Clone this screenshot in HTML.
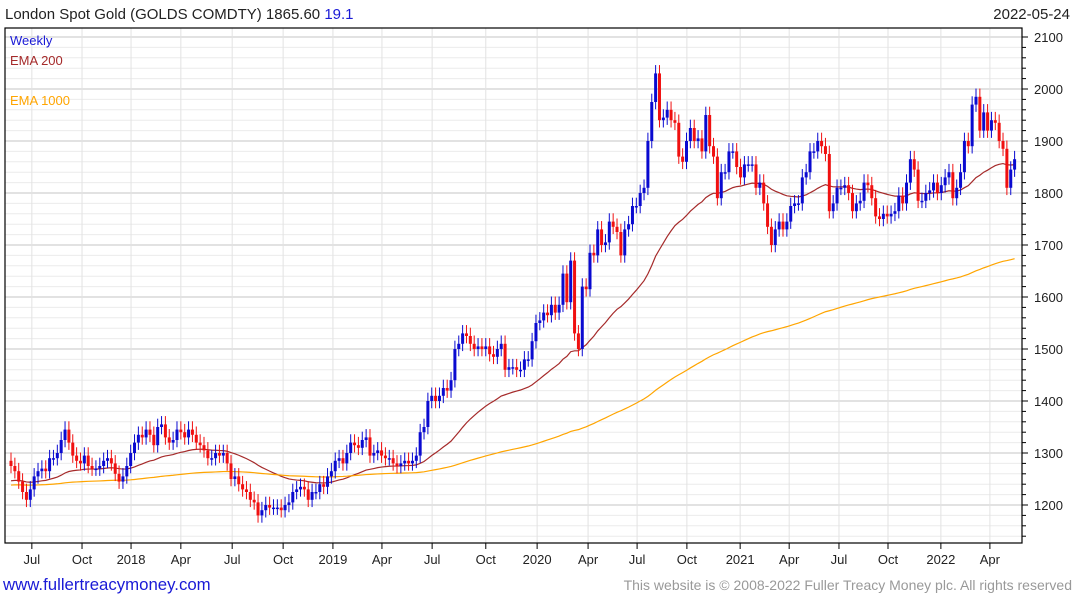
<!DOCTYPE html>
<html><head><meta charset="utf-8"><style>
body{margin:0;background:#fff;font-family:"Liberation Sans",sans-serif;}
svg text{font-family:"Liberation Sans",sans-serif;}
</style></head><body>
<svg id="chart" width="1075" height="600">
<text x="5" y="19" font-size="15" fill="#222">London Spot Gold (GOLDS COMDTY) 1865.60 <tspan fill="#1a1ad6">19.1</tspan></text>
<text x="1070" y="19" font-size="15" fill="#222" text-anchor="end">2022-05-24</text>
<g id="grid"></g>
<g id="emas"></g>
<g id="candles"></g>
<rect x="5" y="28" width="1017" height="515" fill="none" stroke="#000" stroke-width="1.2"/>
<g id="yaxis"></g>
<g id="xaxis"></g>
<text x="10" y="45" font-size="13" fill="#1a1ad6">Weekly</text>
<text x="10" y="65" font-size="13" fill="#a52a2a">EMA 200</text>
<text x="10" y="105" font-size="13" fill="#ffa500">EMA 1000</text>
<text x="3" y="590" font-size="16.8" fill="#1a1ad6">www.fullertreacymoney.com</text>
<text x="1072" y="590" font-size="14" fill="#999" text-anchor="end">This website is © 2008-2022 Fuller Treacy Money plc. All rights reserved</text>
</svg>
<script>
const closes=[1275,1265,1245,1225,1210,1230,1255,1265,1270,1265,1290,1290,1300,1325,1345,1320,1295,1285,1280,1295,1275,1270,1270,1275,1285,1290,1280,1260,1245,1255,1275,1300,
1320,1335,1330,1345,1335,1315,1350,1355,1330,1320,1325,1345,1340,1330,1345,1335,1320,1315,1305,1290,1290,1300,1295,1300,1280,1250,1255,1240,1230,1225,1210,1205,1180,1190,1200,1195,1195,1195,1190,1200,1205,1225,1230,1235,1230,1210,1225,1225,1240,1235,1255,1265,
1285,1290,1280,1300,1320,1315,1310,1325,1330,1295,1300,1305,1295,1290,1290,1280,1275,1280,1285,1280,1285,1295,1340,1350,1400,1410,1400,1410,1425,1420,1440,1500,1510,1530,1525,1510,1500,1505,1500,1505,1490,1485,1500,1510,1460,1465,1465,1460,1460,1480,1480,1515,
1550,1555,1570,1565,1585,1570,1585,1645,1590,1670,1530,1500,1620,1615,1685,1680,1730,1700,1705,1745,1735,1725,1680,1730,1740,1775,1775,1800,1810,1900,1975,2030,1940,1945,1960,1940,1935,1870,1860,1900,1925,1900,1905,1880,1950,1890,1870,1790,1840,1840,1880,1880,
1850,1830,1855,1855,1855,1810,1820,1780,1735,1700,1730,1745,1730,1745,1775,1780,1780,1830,1840,1880,1880,1900,1890,1875,1765,1780,1810,1810,1815,1800,1765,1780,1785,1820,1815,1790,1755,1750,1760,1755,1760,1765,1795,1780,1820,1865,1845,1785,1785,1800,1805,1820,
1800,1815,1830,1840,1790,1810,1840,1900,1890,1970,1985,1920,1955,1920,1940,1935,1900,1885,1810,1845,1865];
const yTicks=[1200,1300,1400,1500,1600,1700,1800,1900,2000,2100];
const xLabels=["Jul","Oct","2018","Apr","Jul","Oct","2019","Apr","Jul","Oct","2020","Apr","Jul","Oct","2021","Apr","Jul","Oct","2022","Apr"];
const xLabelWeeks=[5.4,18.4,31.1,44,57.3,70.5,83.4,96.1,109.1,123,136.3,149.5,162.2,175.1,188.9,201.6,214.5,227.2,240.9,253.6];
const emaShortStart=1245, emaLongStart=1238;
const NS="http://www.w3.org/2000/svg";
const X=i=>11+i*3.86;
const Y=v=>37+(2100-v)*0.52;
function mk(tag,attrs,parent){const e=document.createElementNS(NS,tag);for(const k in attrs)e.setAttribute(k,attrs[k]);parent.appendChild(e);return e;}
const grid=document.getElementById('grid'),ya=document.getElementById('yaxis'),xa=document.getElementById('xaxis');
for(let v=1140;v<=2120;v+=20){const y=Y(v);if(y<28||y>543)continue;const major=v%100===0;
 const l=mk('line',{x1:5,x2:1022,y1:y,y2:y,stroke:major?'#c4c4c4':'#ececec','stroke-width':1},grid);
 
 
 const t=mk('line',{x1:1022,x2:major?1028:1026,y1:y,y2:y,stroke:'#000'},ya);
 
 }
yTicks.forEach(v=>{const t=mk('text',{x:1034,y:Y(v)+5,'font-size':13,fill:'#222'},ya);t.textContent=v;
 
 });
xLabels.forEach((s,k)=>{const x=X(xLabelWeeks[k]);
 const g=mk('line',{x1:x,x2:x,y1:28,y2:543,stroke:'#e2e2e2'},grid);
 
 
 const t=mk('line',{x1:x,x2:x,y1:543,y2:549,stroke:'#000'},xa);
 
 
 const tx=mk('text',{x:x,y:564,'font-size':13,fill:'#222','text-anchor':'middle'},xa);tx.textContent=s;
 
 });
function ema(start,n){let e=start,a=2/(n+1),out=[];closes.forEach(c=>{e=e+a*(c-e);out.push(e);});return out;}
const em=document.getElementById('emas');
[[ema(emaShortStart,40),'#a52a2a','ema-200-line'],[ema(emaLongStart,200),'#ffa500','ema-1000-line']].forEach(([s,c,n])=>{
 const p=mk('polyline',{points:s.map((v,i)=>X(i)+','+Y(v)).join(' '),fill:'none',stroke:c,'stroke-width':1.2},em);
 
 });
const cg=document.getElementById('candles');
closes.forEach((c,i)=>{const o=i?closes[i-1]:c+10;const up=c>=o;const col=up?'#0a0ad0':'#f01010';
 const hi=Math.max(o,c)+16,lo=Math.min(o,c)-14,x=X(i);
 const w=mk('line',{x1:x,x2:x,y1:Y(hi),y2:Y(lo),stroke:col,'stroke-width':1},cg);
 
 
 const top=Y(Math.max(o,c)),h=Math.max(1.5,Y(Math.min(o,c))-top);
 const b=mk('rect',{x:x-1.5,y:top,width:3,height:h,fill:col},cg);
 
 });
</script>
</body></html>
